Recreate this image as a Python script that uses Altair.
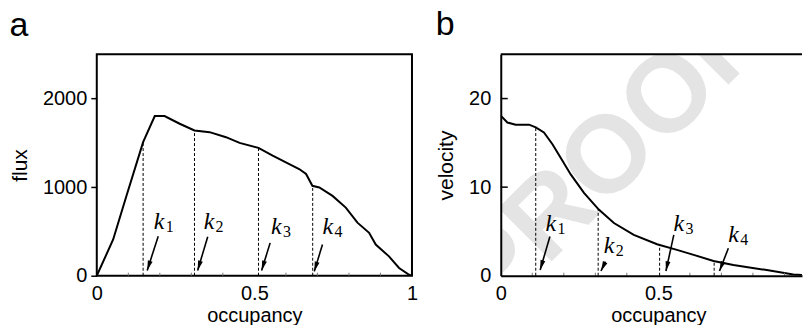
import math
import altair as alt
import pandas as pd

# ---------------- data ----------------
# panel a: flux vs occupancy
occ_a = [0, 0.052, 0.094, 0.147, 0.184, 0.215, 0.263, 0.31, 0.358, 0.41, 0.453,
         0.513, 0.558, 0.6, 0.642, 0.664, 0.684, 0.706, 0.748, 0.79, 0.827,
         0.864, 0.885, 0.927, 0.959, 0.991, 1.0]
flux = [0, 409, 901, 1508, 1803, 1803, 1716, 1640, 1621, 1564, 1500,
        1443, 1356, 1280, 1205, 1148, 1015, 996, 901, 769, 599,
        485, 352, 219, 87, 11, 0]

# panel b: velocity vs occupancy
occ_b = [0, 0.021, 0.047, 0.09, 0.111, 0.137, 0.164, 0.19, 0.222, 0.264, 0.311,
         0.359, 0.422, 0.496, 0.559, 0.612, 0.675, 0.738, 0.844, 0.928, 0.981, 1.0]
vel = [18.07, 17.3, 17.05, 17.05, 16.74, 16.17, 14.85, 13.33, 11.44, 9.35, 7.47,
       5.95, 4.62, 3.56, 2.92, 2.35, 1.67, 1.21, 0.64, 0.15, 0.0, 0.0]

k_sub = ["1", "2", "3", "4"]

# critical occupancies (dashed lines) and where they meet the curve
ka_x = [0.147, 0.31, 0.513, 0.685]
ka_top = [1508, 1640, 1443, 1010]
ka_arrow_x0 = [0.195, 0.352, 0.55, 0.716]
ka_arrow_y0 = [447, 440, 371, 352]
ka_arrow_x1 = [0.16, 0.32, 0.523, 0.69]
ka_arrow_y1 = [60, 60, 60, 49]
ka_lab_x = [0.181, 0.339, 0.553, 0.716]
ka_lab_y = [523, 523, 466, 466]

kb_x = [0.111, 0.309, 0.504, 0.677]
kb_top = [16.74, 7.5, 3.4, 1.7]
kb_arrow_x0 = [0.156, 0.332, 0.549, 0.722]
kb_arrow_y0 = [4.43, 1.59, 4.62, 3.1]
kb_arrow_x1 = [0.125, 0.318, 0.524, 0.694]
kb_arrow_y1 = [0.65, 0.53, 0.53, 0.53]
kb_lab_x = [0.142, 0.327, 0.548, 0.722]
kb_lab_y = [5.0, 2.53, 5.0, 3.86]

minor_x = [0.1, 0.2, 0.3, 0.4, 0.6, 0.7, 0.8, 0.9]

W, H = 316, 222          # full panel plot size (x from 0 to 1)
WB = 302                 # visible part of panel b (the reference is cut at the edge)
FONT = "Liberation Sans"
ARROW = "M0,0L0.45,1.8L-0.45,1.8Z"


def panel(letter, occ, vals, ytitle, ydom, yvals, kx, ktop, ax0, ay0, ax1, ay1,
          lx, ly, xvals, width, is_b=False):
    xmax = width / W
    xs = alt.Scale(domain=[0, xmax], nice=False, zero=False)
    ys = alt.Scale(domain=ydom, nice=False)
    xaxis = alt.Axis(values=xvals, format="~g", ticks=False, labelPadding=8,
                     title="occupancy", titlePadding=2, grid=False, zindex=1,
                     domain=is_b, domainColor="black", domainWidth=2,
                     labelFontSize=20, titleFontSize=20, labelFlush=False,
                     labelColor="black", titleColor="black", titleFontWeight="normal",
                     **({"titleX": W / 2} if is_b else {}))
    yaxis = alt.Axis(values=yvals, format="d", ticks=not is_b, tickSize=6,
                     tickWidth=1.5, tickColor="black", zindex=1,
                     labelPadding=10 if is_b else 4,
                     title=ytitle, titlePadding=12, grid=False,
                     domain=is_b, domainColor="black", domainWidth=2,
                     labelFontSize=20, titleFontSize=21, labelColor="black",
                     titleColor="black", titleFontWeight="normal")

    def X(f):
        return alt.X(f, scale=xs, axis=xaxis, title="occupancy")

    def Y(f):
        return alt.Y(f, scale=ys, axis=yaxis, title=ytitle)

    curve_df = pd.DataFrame({"x": occ, "y": vals})
    kdf = pd.DataFrame({"x": kx, "top": ktop, "zero": [0] * len(kx)})
    yspan = ydom[1] - ydom[0]
    angs = []
    for a, b, c, d in zip(ax0, ay0, ax1, ay1):
        dx = (c - a) * W
        dy = -(d - b) * H / yspan
        angs.append((math.degrees(math.atan2(dx, -dy)) + 360) % 360)
    adf = pd.DataFrame({"x0": ax0, "y0": ay0, "x1": ax1, "y1": ay1, "ang": angs})
    ldf = pd.DataFrame({"x": lx, "y": ly, "sub": k_sub})

    layers = []
    if is_b:
        wdf = pd.DataFrame({"t": ["PROOF"]})
        layers.append(
            alt.Chart(wdf).mark_text(
                font=FONT, fontWeight="bold", fontSize=110, color="#e4e4e4",
                angle=315, align="center", baseline="middle", clip=True
            ).encode(text="t:N", x=alt.value(109), y=alt.value(103))
        )

    line = alt.Chart(curve_df).mark_line(color="black", strokeWidth=2,
                                         clip=True).encode(
        x=X("x:Q"), y=Y("y:Q"),
    )
    dashed = alt.Chart(kdf).mark_rule(color="black", strokeWidth=1,
                                      strokeDash=[3, 2]).encode(
        x=X("x:Q"), y=Y("zero:Q"), y2="top:Q",
    )
    arrows = alt.Chart(adf).mark_rule(color="black", strokeWidth=1.6).encode(
        x=X("x0:Q"), x2="x1:Q", y=Y("y0:Q"), y2="y1:Q",
    )
    heads = alt.Chart(adf).mark_point(shape=ARROW, filled=True, color="black",
                                      opacity=1, size=120, strokeWidth=0).encode(
        x=X("x1:Q"), y=Y("y1:Q"),
        angle=alt.Angle("ang:Q", scale=None),
    )
    ktext = alt.Chart(ldf).mark_text(text="k", font="Liberation Serif",
                                     fontStyle="italic", fontSize=24, align="left",
                                     baseline="alphabetic", color="black").encode(
        x=X("x:Q"), y=Y("y:Q"),
    )
    ksub = alt.Chart(ldf).mark_text(font="Liberation Serif", fontSize=16,
                                    align="left", baseline="alphabetic", dx=12,
                                    dy=3, color="black").encode(
        x=X("x:Q"), y=Y("y:Q"), text="sub:N",
    )
    mx = [v for v in minor_x if v < xmax]
    mdf = pd.DataFrame({"x": mx, "y": [ydom[0]] * len(mx)})
    minor = alt.Chart(mdf).mark_rule(color="#777777", strokeWidth=1).encode(
        x=X("x:Q"), y=alt.value(H), y2=alt.value(H - 3),
    )
    layers += [line, minor, dashed, arrows, heads, ktext, ksub]
    props = dict(
        width=width, height=H,
        title=alt.TitleParams(letter, anchor="start", fontSize=34, font=FONT,
                              fontWeight="normal", color="black", offset=11),
    )
    if is_b:
        ydf = pd.DataFrame({"y": [v for v in yvals if v > 0]})
        layers.append(
            alt.Chart(ydf).mark_rule(color="black", strokeWidth=1.5).encode(
                y=Y("y:Q"), x=alt.value(0), x2=alt.value(7),
            )
        )
        # top frame line of panel b (right side is cut off in the reference)
        tdf = pd.DataFrame({"x0": [0.0], "x1": [xmax], "y": [ydom[1]]})
        layers.append(
            alt.Chart(tdf).mark_rule(color="black", strokeWidth=2).encode(
                x=X("x0:Q"), x2="x1:Q", y=Y("y:Q"),
            )
        )
        props["view"] = alt.ViewBackground(stroke=None)
    return alt.layer(*layers).properties(**props)


pa = panel("a", occ_a, flux, "flux", [0, 2500], [0, 1000, 2000], ka_x, ka_top,
           ka_arrow_x0, ka_arrow_y0, ka_arrow_x1, ka_arrow_y1, ka_lab_x, ka_lab_y,
           [0, 0.5, 1], W)
pb = panel("b", occ_b, vel, "velocity", [0, 25], [0, 10, 20], kb_x, kb_top,
           kb_arrow_x0, kb_arrow_y0, kb_arrow_x1, kb_arrow_y1, kb_lab_x, kb_lab_y,
           [0, 0.5], WB, is_b=True)

chart = alt.hconcat(pa, pb, spacing=16).properties(
    padding={"left": 0, "top": 0, "right": 0, "bottom": -2}
).configure(font=FONT, background="white").configure_view(
    stroke="black", strokeWidth=2
)

chart.save("out.html", embed_options={"renderer": "svg", "actions": False})
